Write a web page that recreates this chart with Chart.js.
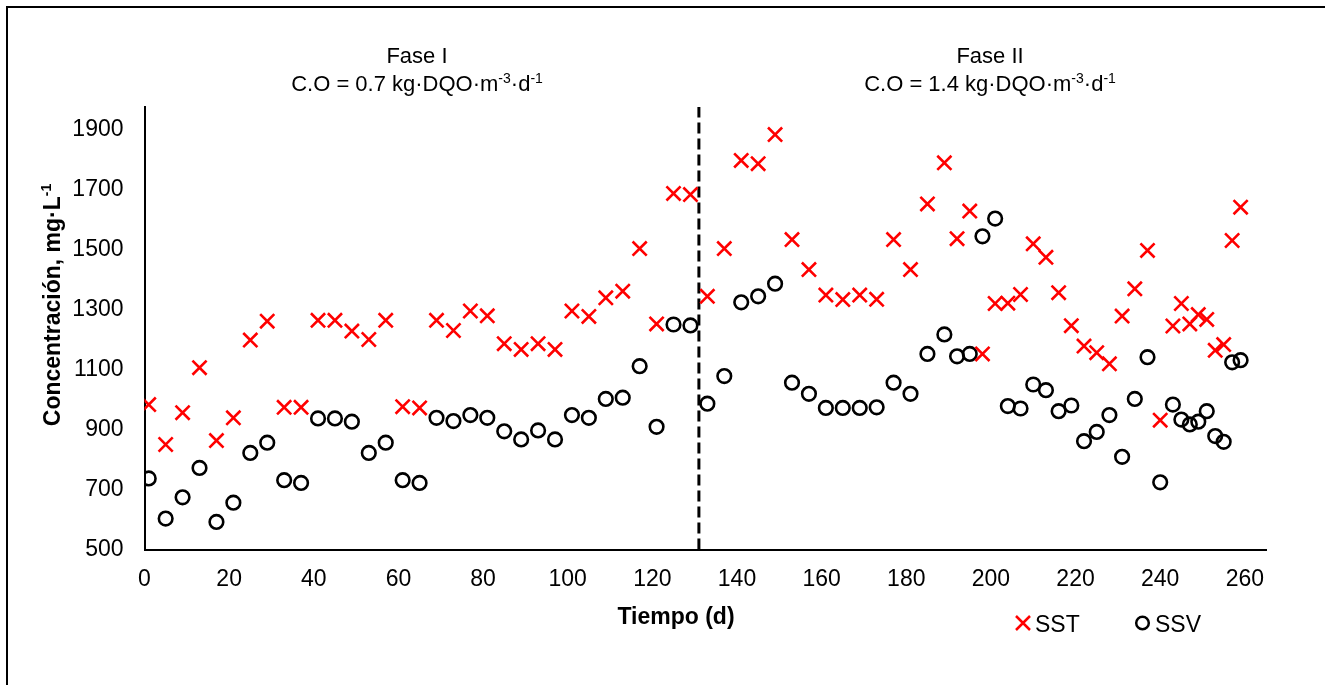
<!DOCTYPE html>
<html>
<head>
<meta charset="utf-8">
<script src="https://cdn.jsdelivr.net/npm/chart.js@4/dist/chart.umd.min.js"></script>
<style>
  html, body { margin: 0; padding: 0; background: #fff; }
  #wrap { width: 1325px; height: 685px; }
</style>
</head>
<body>
<div id="wrap"><canvas id="c" width="1325" height="685"></canvas></div>
<script>
// ---- data ----
const days = [1,5,9,13,17,21,25,29,33,37,41,45,49,53,57,61,65,69,73,77,81,85,89,93,97,101,105,109,113,117,121,125,129,133,137,141,145,149,153,157,161,165,169,173,177,181,185,189,192,195,198,201,204,207,210,213,216,219,222,225,228,231,234,237,240,243,245,247,249,251,253,255,257,259];
const sst = [983,850,956,1106,863,939,1198,1261,974,974,1264,1264,1228,1200,1264,976,972,1264,1230,1295,1279,1186,1167,1186,1167,1295,1277,1339,1361,1503,1252,1687,1683,1344,1503,1797,1786,1883,1533,1433,1348,1333,1348,1334,1533,1433,1652,1789,1536,1628,1152,1320,1321,1350,1519,1474,1356,1246,1178,1156,1119,1278,1369,1497,931,1245,1320,1252,1283,1267,1164,1183,1530,1641];
const ssv = [737,603,674,772,592,656,822,856,731,722,937,937,926,822,856,731,722,939,928,948,939,894,867,897,867,948,939,1002,1006,1111,909,1250,1247,986,1078,1324,1344,1386,1056,1019,972,972,972,974,1056,1019,1152,1217,1144,1152,1544,1603,978,970,1050,1031,961,980,861,892,948,809,1002,1141,724,983,933,917,926,961,878,859,1124,1131];
const xTicks = [0,20,40,60,80,100,120,140,160,180,200,220,240,260];
const yTicks = [500,700,900,1100,1300,1500,1700,1900];
const xRange = [0, 265];
const yRange = [500, 1975];
const phaseBoundaryDay = 131;
const seriesNames = ['SST', 'SSV'];
const phaseTitles = ['Fase I', 'Fase II'];
const phaseLoads = ['0.7', '1.4'];

const FONT = "'Liberation Sans', Arial, sans-serif";

function drawRich(ctx, parts, x, y, size, bold, align) {
  const w = (p) => {
    ctx.font = (bold ? 'bold ' : '') + (p.sup ? Math.round(size * 0.62) : size) + 'px ' + FONT;
    return ctx.measureText(p.t).width;
  };
  let total = 0;
  parts.forEach(p => total += w(p));
  let cx = align === 'center' ? x - total / 2 : x;
  ctx.textAlign = 'left';
  ctx.textBaseline = 'alphabetic';
  parts.forEach(p => {
    const ww = w(p);
    ctx.fillText(p.t, cx, p.sup ? y - size * 0.38 : y);
    cx += ww;
  });
}

const decor = {
  id: 'decor',
  beforeDraw(chart) {
    const ctx = chart.ctx;
    ctx.save();
    ctx.fillStyle = '#fff';
    ctx.fillRect(0, 0, chart.width, chart.height);
    ctx.fillStyle = '#000';
    ctx.fillRect(6, 6, 1325, 2);
    ctx.fillRect(6, 6, 2, 685);
    ctx.restore();
  },
  afterDraw(chart) {
    const ctx = chart.ctx;
    ctx.save();
    ctx.fillStyle = '#000';
    // phase titles
    const centers = [417, 990];
    for (let i = 0; i < 2; i++) {
      ctx.font = '22px ' + FONT;
      ctx.textAlign = 'center';
      ctx.textBaseline = 'alphabetic';
      ctx.fillText(phaseTitles[i], centers[i], 63);
      drawRich(ctx, [
        {t: 'C.O = ' + phaseLoads[i] + ' kg\u00B7DQO\u00B7m'}, {t: '-3', sup: true},
        {t: '\u00B7d'}, {t: '-1', sup: true}
      ], centers[i], 91, 22, false, 'center');
    }
    // x axis title
    ctx.font = 'bold 23px ' + FONT;
    ctx.textAlign = 'center';
    ctx.fillText('Tiempo (d)', 676, 624);
    // y axis title
    ctx.save();
    ctx.translate(60, 305);
    ctx.rotate(-Math.PI / 2);
    drawRich(ctx, [{t: 'Concentraci\u00F3n, mg\u00B7L'}, {t: '-1', sup: true}], 0, 0, 23, true, 'center');
    ctx.restore();
    // legend
    ctx.strokeStyle = '#ff0000';
    ctx.lineWidth = 2.5;
    ctx.beginPath();
    ctx.moveTo(1016, 616); ctx.lineTo(1030, 630);
    ctx.moveTo(1030, 616); ctx.lineTo(1016, 630);
    ctx.stroke();
    ctx.strokeStyle = '#000';
    ctx.beginPath();
    ctx.arc(1142.5, 623, 6.3, 0, Math.PI * 2);
    ctx.stroke();
    ctx.font = '23px ' + FONT;
    ctx.textAlign = 'left';
    ctx.fillStyle = '#000';
    ctx.fillText(seriesNames[0], 1035, 632);
    ctx.fillText(seriesNames[1], 1155, 632);
    ctx.restore();
  }
};

const sstPts = days.map((d, i) => ({x: d, y: sst[i]}));
const ssvPts = days.map((d, i) => ({x: d, y: ssv[i]}));

new Chart(document.getElementById('c'), {
  type: 'scatter',
  data: {
    datasets: [
      {
        label: seriesNames[0], data: sstPts,
        pointStyle: 'crossRot', pointRadius: 10, pointBorderWidth: 2.6,
        borderColor: '#ff0000', backgroundColor: '#ff0000', showLine: false
      },
      {
        label: seriesNames[1], data: ssvPts,
        pointStyle: 'circle', pointRadius: 6.8, pointBorderWidth: 2.6,
        borderColor: '#000000', backgroundColor: 'rgba(0,0,0,0)', showLine: false
      },
      {
        label: 'boundary', type: 'line',
        data: [{x: phaseBoundaryDay, y: yRange[0]}, {x: phaseBoundaryDay, y: yRange[1]}],
        borderColor: '#000', borderWidth: 3, borderDash: [11, 5], pointRadius: 0, fill: false
      }
    ]
  },
  options: {
    responsive: false,
    animation: false,
    events: [],
    layout: { padding: { left: 0, top: 107, right: 59, bottom: 0 } },
    plugins: { legend: { display: false }, tooltip: { enabled: false }, title: { display: false } },
    scales: {
      x: {
        type: 'linear', min: xRange[0], max: xRange[1],
        grid: { display: false, drawTicks: false },
        border: { display: true, color: '#000', width: 2 },
        ticks: { color: '#000', font: { family: FONT, size: 23 }, padding: 16, maxRotation: 0, autoSkip: false,
                 callback: v => String(v) },
        afterBuildTicks: s => { s.ticks = xTicks.map(v => ({value: v})); },
        afterFit: s => { s.height = 685 - 549.5; }
      },
      y: {
        type: 'linear', min: yRange[0], max: yRange[1],
        grid: { display: false, drawTicks: false },
        border: { display: true, color: '#000', width: 2 },
        ticks: { color: '#000', font: { family: FONT, size: 23 }, padding: 21, autoSkip: false,
                 callback: v => String(v) },
        afterBuildTicks: s => { s.ticks = yTicks.map(v => ({value: v})); },
        afterFit: s => { s.width = 144.5; }
      }
    }
  },
  plugins: [decor]
});
</script>
</body>
</html>
